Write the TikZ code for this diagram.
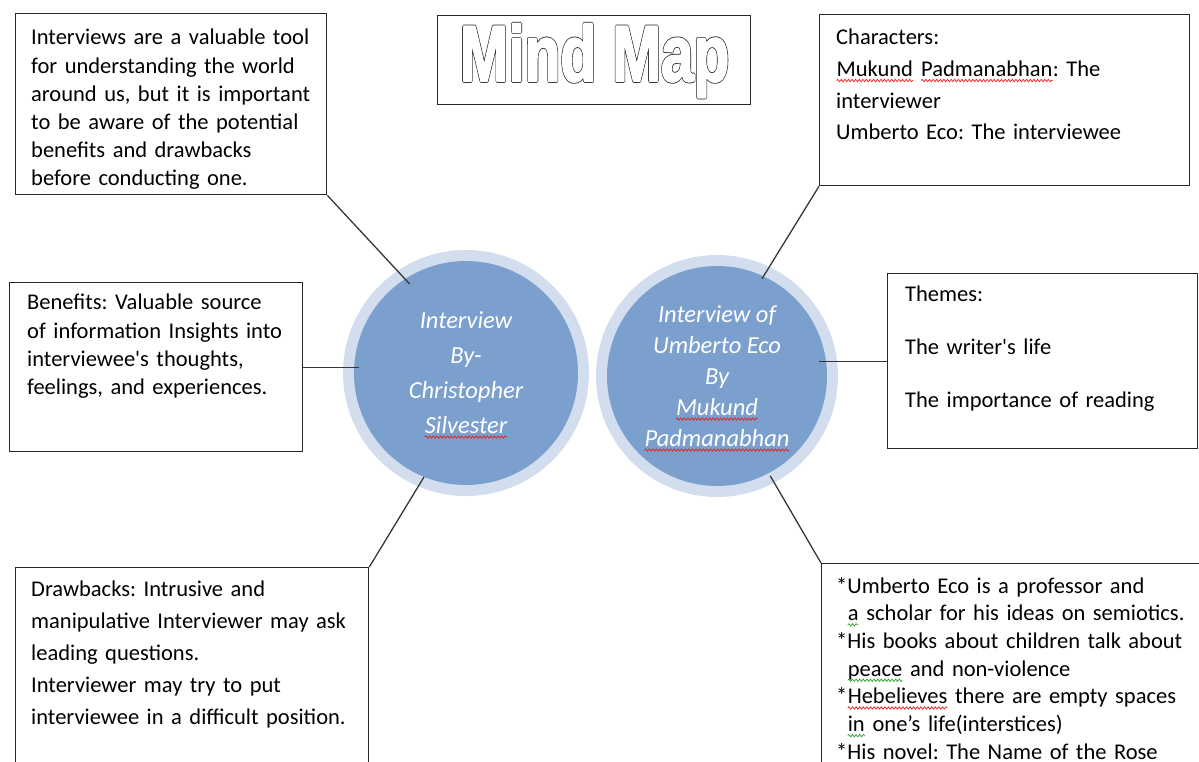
\documentclass[tikz,border=0pt]{standalone}
\usepackage{fontspec}
\setmainfont{Carlito}[Ligatures=TeXOff]
% the same heavy face twice, stroked with two different widths
\newfontfamily\titleouter{Liberation Sans}[Ligatures=TeXOff, BoldFeatures={FakeBold=5.0}]
\newfontfamily\titleinner{Liberation Sans}[Ligatures=TeXOff, BoldFeatures={FakeBold=3.0}]
\usetikzlibrary{decorations.pathmorphing}
\frenchspacing

\definecolor{ringblue}{RGB}{210,222,238}
\definecolor{coreblue}{RGB}{123,160,206}
\definecolor{boxline}{RGB}{40,40,40}
\definecolor{linkgray}{RGB}{55,55,55}
\definecolor{spellred}{RGB}{230,30,30}
\definecolor{spellgreen}{RGB}{40,160,40}

% spell-check style wavy underline under a word
\newcommand\wavy[2]{\tikz[baseline=(w.base),x=1pt,y=1pt]{%
  \node[inner sep=0pt,outer sep=0pt] (w) {#2};
  \draw[#1, line width=0.7pt, decorate,
        decoration={snake, amplitude=1.2pt, segment length=3.6pt}]
    ([yshift=-4pt]w.base west) -- ([yshift=-4pt]w.base east);}}

% stroked lettering: fill colour white, stroke colour given as grey level
\newcommand\stroked[2]{\special{pdf:bcolor [1] [#1]}#2\special{pdf:ecolor}}
% double-outlined word art: a wide dark stroke, then a narrower white one on top
\newcommand\wordart[1]{\special{pdf:code 1 j}%
  \rlap{{\titleouter\bfseries\stroked{0.12}{#1}}}{\titleinner\bfseries\stroked{1}{#1}}%
  \special{pdf:code 0 j}}

\begin{document}
\begin{tikzpicture}[x=1pt,y=-1pt,
  panel/.style={draw=boxline, line width=1.3pt, fill=white, anchor=north west, inner sep=0pt},
  bodytext/.style={anchor=north west, inner sep=0pt, align=left, text width=420pt, text=black},
  link/.style={draw=linkgray, line width=1.3pt},
  ring/.style={circle, fill=ringblue, inner sep=0pt},
  core/.style={circle, fill=coreblue, inner sep=0pt},
  hubtext/.style={anchor=north, align=center, text=white, inner sep=0pt}]

\useasboundingbox (0,0) rectangle (1199,762);

% title box with outlined lettering
\node[draw=boxline, line width=1.3pt, anchor=north west, minimum width=313pt, minimum height=89pt, inner sep=0pt] (titlebox) at (437,15) {};
\node[anchor=base, inner sep=0pt, font=\fontsize{79}{79}\selectfont] (title) at (594.5,81)
  {\scalebox{0.74}[1]{\wordart{Mind Map}}};

% the two hubs
\node[ring, minimum size=246pt] (ring1) at (466,373) {};
\node[core, minimum size=224pt] (core1) at (466,373) {};
\node[ring, minimum size=242pt] (ring2) at (717,376) {};
\node[core, minimum size=220pt] (core2) at (717,376) {};

% boxes
\node[panel, minimum width=311pt, minimum height=181pt] (intro) at (15,13) {};
\node[panel, minimum width=370pt, minimum height=171pt] (chars) at (819,14) {};
\node[panel, minimum width=293pt, minimum height=169pt] (benefits) at (9,282) {};
\node[panel, minimum width=310pt, minimum height=175pt] (themes) at (887,273) {};
\node[panel, minimum width=353pt, minimum height=230pt] (drawbacks) at (15,567) {};
\node[panel, minimum width=420pt, minimum height=230pt] (notes) at (821,563) {};

% connectors
\draw[link, shorten >=-7pt] (intro.south east) -- (core1.123);
\draw[link, shorten >=-5pt] (benefits.east) -- (benefits.east -| core1.west);
\draw[link] (drawbacks.north east) -- (core1.248);
\draw[link, shorten >=-3pt] (chars.south west) -- (core2.65);
\draw[link, shorten >=-8pt] (themes.west) -- (themes.west -| core2.east);
\draw[link, shorten >=3pt] (notes.north west) -- (core2.298);

% hub texts
\node[hubtext, font=\itshape\fontsize{24.5}{35}\selectfont] (hub1text) at (466,311)
  {Interview\\By-\\Christopher\\\wavy{spellred}{Silvester}};
\node[hubtext, font=\itshape\fontsize{24.5}{31}\selectfont] (hub2text) at (717,305)
  {Interview of\\Umberto Eco\\By\\\wavy{spellred}{Mukund}\\\wavy{spellred}{Padmanabhan}};

% box texts
\node[bodytext, font=\fontsize{22.5}{28.2}\selectfont] (introtext) at (31,29)
  {Interviews are a valuable tool\\for understanding the world\\around us, but it is important\\to be aware of the potential\\benefits and drawbacks\\before conducting one.};
\node[bodytext, font=\fontsize{22.5}{31.7}\selectfont] (charstext) at (836,29)
  {Characters:\\\wavy{spellred}{Mukund} \wavy{spellred}{Padmanabhan}: The\\interviewer\\Umberto Eco: The interviewee};
\node[bodytext, font=\fontsize{22.5}{28.3}\selectfont] (benefitstext) at (27,294)
  {Benefits: Valuable source\\of information Insights into\\interviewee's thoughts,\\feelings, and experiences.};
\node[bodytext, font=\fontsize{22.5}{53}\selectfont] (themestext) at (905,286)
  {Themes:\\The writer's life\\The importance of reading};
\node[bodytext, font=\fontsize{22.5}{32}\selectfont] (drawbackstext) at (31,581)
  {Drawbacks: Intrusive and\\manipulative Interviewer may ask\\leading questions.\\Interviewer may try to put\\interviewee in a difficult position.};
\node[bodytext, font=\fontsize{22.5}{27.7}\selectfont] (notestext) at (836,577)
  {*Umberto Eco is a professor and\\{}\phantom{*}\wavy{spellgreen}{a} scholar for his ideas on semiotics.\\{}*His books about children talk about\\{}\phantom{*}\wavy{spellgreen}{peace} and non-violence\\{}*\wavy{spellred}{Hebelieves} there are empty spaces\\{}\phantom{*}\wavy{spellgreen}{in} one’s life(interstices)\\{}*His novel: The Name of the Rose};
\end{tikzpicture}
\end{document}
